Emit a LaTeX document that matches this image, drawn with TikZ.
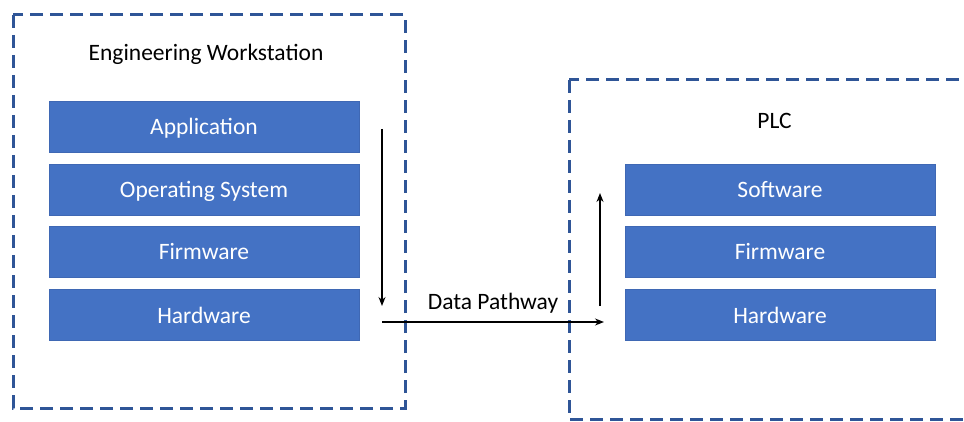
\documentclass[tikz,border=0pt]{standalone}
\usepackage{fontspec}
\setmainfont{Carlito}
\usetikzlibrary{arrows.meta}
\definecolor{layerfill}{HTML}{4472C4}
\definecolor{layeredge}{HTML}{3F68B4}
\definecolor{framecol}{HTML}{2F5597}
\tikzset{
  labelfont/.style={font=\fontsize{23.5}{28}\selectfont, text height=17pt, text depth=0pt},
  layer/.style={labelfont, draw=layeredge, line width=0.8pt, fill=layerfill, text=white,
    minimum width=310pt, minimum height=51pt, inner sep=0pt},
  frame/.style={draw=framecol, line width=3pt, dash pattern=on 13pt off 7pt},
  title/.style={labelfont, text=black, inner sep=0pt},
  flow/.style={line width=1.3pt, -{Stealth[length=9pt,width=7pt]}}
}
\begin{document}
\begin{tikzpicture}[x=1pt,y=-1pt]
\useasboundingbox (0,0) rectangle (964,422);
\clip (0,0) rectangle (964,422);

% dashed enclosures
\draw[frame] (13,15) rectangle (405,408);
\draw[frame] (569,80) rectangle (985,419);

% engineering workstation stack
\node[title] (ewtitle) at (206,52) {Engineering Workstation};
\node[layer] (app)  at (204,126.5) {Application};
\node[layer] (os)   at (204,189.5) {Operating System};
\node[layer] (ewfw) at (204,251.5) {Firmware};
\node[layer] (ewhw) at (204,314.5) {Hardware};

% PLC stack
\node[title] (plctitle) at (774.5,120.5) {PLC};
\node[layer] (sw)    at (780,189.5) {Software};
\node[layer] (plcfw) at (780,251.5) {Firmware};
\node[layer] (plchw) at (780,314.5) {Hardware};

% data flow
\coordinate (downtop) at (382,129);
\coordinate (downend) at (382,306);
\coordinate (pathstart) at (382,322);
\coordinate (pathend) at (604,322);
\coordinate (upstart) at (600,306);
\coordinate (upend) at (600,193);
\draw[flow] (downtop) -- (downend);
\draw[flow] (pathstart) -- node[above=12pt, title] (pathlabel) {Data Pathway} (pathend);
\draw[flow] (upstart) -- (upend);
\end{tikzpicture}
\end{document}
